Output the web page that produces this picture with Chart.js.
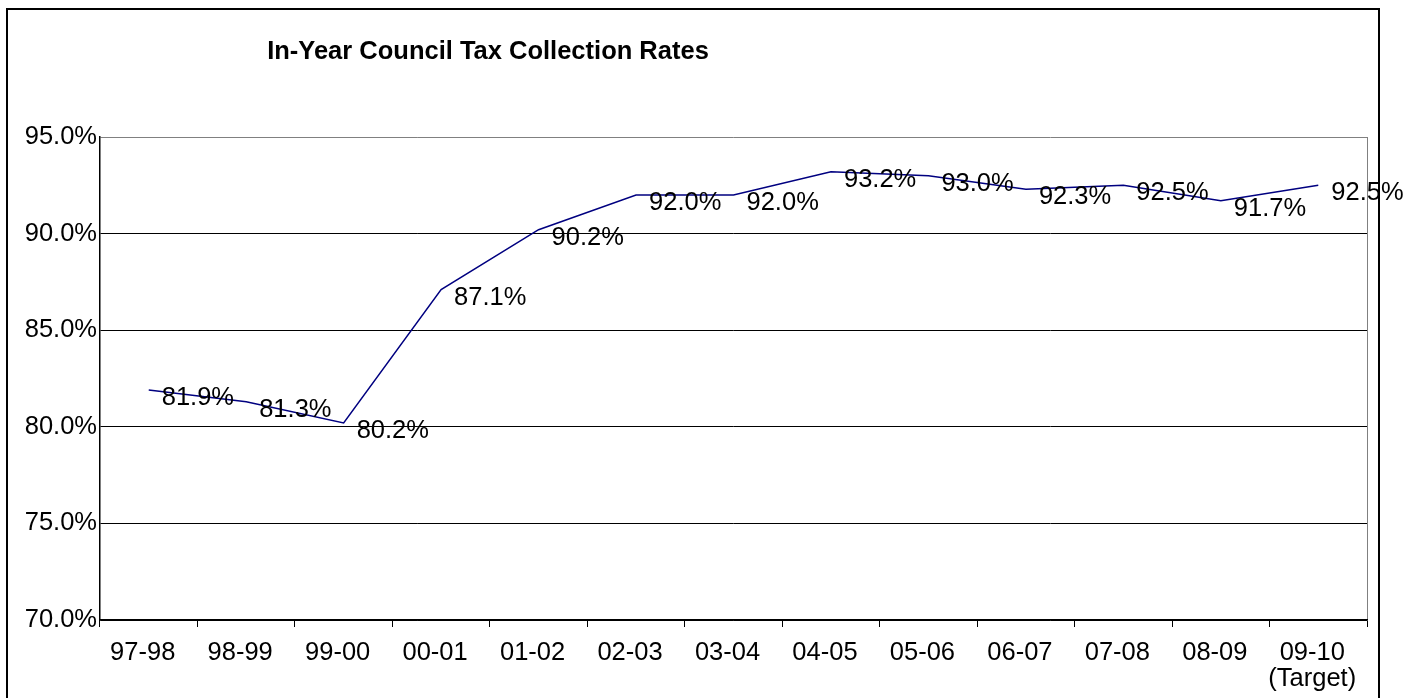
<!DOCTYPE html>
<html><head><meta charset="utf-8">
<script src="https://cdn.jsdelivr.net/npm/chart.js@4"></script>
<style>
html,body{margin:0;padding:0;background:#fff;overflow:hidden;width:1418px;height:698px}
#frame{position:absolute;left:6px;top:8px;width:1370px;height:760px;border:2px solid #000;border-bottom:none}
#wrap{position:absolute;left:0;top:0;width:1418px;height:698px}
</style></head><body>
<div id="frame"></div>
<div id="wrap"><canvas id="c" width="1418" height="698"></canvas></div>
<script>
const chartTitle = 'In-Year Council Tax Collection Rates';
const categories = ['97-98','98-99','99-00','00-01','01-02','02-03','03-04','04-05','05-06','06-07','07-08','08-09',['09-10','(Target)']];
const rates = [81.9, 81.3, 80.2, 87.1, 90.2, 92.0, 92.0, 93.2, 93.0, 92.3, 92.5, 91.7, 92.5];
const yTicks = [70, 75, 80, 85, 90, 95];

const FONT = '"Liberation Sans", Arial, sans-serif';

const titlePlugin = {
  id: 'titleText',
  afterDraw(chart) {
    const ctx = chart.ctx;
    ctx.save();
    ctx.font = 'bold 25.5px ' + FONT;
    ctx.fillStyle = '#000';
    ctx.textAlign = 'center';
    ctx.textBaseline = 'alphabetic';
    ctx.fillText(chartTitle, 488, 59);
    ctx.restore();
  }
};
const labelPlugin = {
  id: 'valueLabels',
  afterDatasetsDraw(chart) {
    const ctx = chart.ctx;
    const meta = chart.getDatasetMeta(0);
    ctx.save();
    ctx.font = '25.5px ' + FONT;
    ctx.fillStyle = '#000';
    ctx.textAlign = 'left';
    ctx.textBaseline = 'middle';
    meta.data.forEach((p, i) => {
      ctx.fillText(rates[i].toFixed(1) + '%', p.x + 13, p.y + 8);
    });
    ctx.restore();
  }
};

new Chart(document.getElementById('c'), {
  type: 'line',
  data: {
    labels: categories,
    datasets: [{
      data: rates,
      borderColor: '#000080',
      borderWidth: 1.5,
      pointRadius: 0,
      tension: 0,
      fill: false
    }]
  },
  options: {
    responsive: false,
    animation: false,
    devicePixelRatio: 1,
    layout: { padding: { left: 0, top: 137, right: 51, bottom: 0 } },
    plugins: { legend: { display: false }, tooltip: { enabled: false }, title: { display: false } },
    scales: {
      x: {
        type: 'category',
        offset: true,
        afterFit(s) { s.height = 78; },
        border: { display: true, color: '#000', width: 1.5 },
        grid: {
          offset: true,
          drawOnChartArea: true,
          color: ctx => ctx.type === 'tick' ? 'rgba(0,0,0,0)' : '#808080',
          tickColor: '#000',
          tickLength: 7,
          lineWidth: 1
        },
        ticks: {
          color: '#000',
          font: { family: FONT, size: 25.5, lineHeight: 1.03 },
          padding: 13,
          maxRotation: 0,
          autoSkip: false,
          labelOffset: -6
        }
      },
      y: {
        min: 70,
        max: 95,
        afterFit(s) { s.width = 100; },
        afterBuildTicks(s) { s.ticks = yTicks.map(v => ({ value: v })); },
        border: { display: true, color: '#000', width: 1.5 },
        grid: {
          drawTicks: false,
          color: ctx => (ctx.tick && ctx.tick.value === 95) ? '#808080' : '#000',
          lineWidth: 1
        },
        ticks: {
          color: '#000',
          font: { family: FONT, size: 25.5 },
          padding: 3,
          callback: v => Number(v).toFixed(1) + '%'
        }
      }
    }
  },
  plugins: [labelPlugin, titlePlugin]
});
</script>
</body></html>
